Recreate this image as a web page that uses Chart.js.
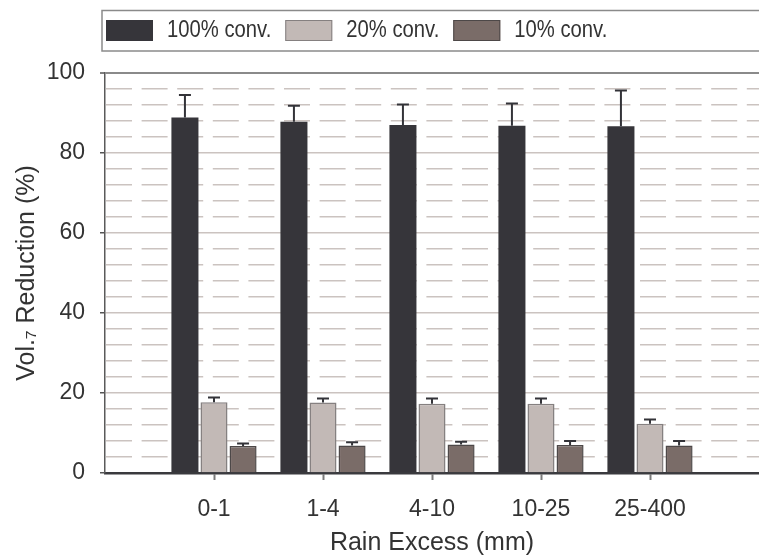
<!DOCTYPE html>
<html>
<head>
<meta charset="utf-8">
<script src="https://cdn.jsdelivr.net/npm/chart.js@4.4.1/dist/chart.umd.min.js"></script>
<style>
  html, body { margin: 0; padding: 0; background: #ffffff; }
  #wrap { width: 759px; height: 559px; position: relative; }
</style>
</head>
<body>
<div id="wrap"><canvas id="chart"></canvas></div>
<script>
// Rain-excess classes on the x axis
const categories = ['0-1', '1-4', '4-10', '10-25', '25-400'];

// Mean volume reduction (%) per conversion scenario
const conv100 = [88.9, 87.8, 87.0, 86.8, 86.7];
const conv20  = [17.7, 17.6, 17.3, 17.3, 12.3];
const conv10  = [6.75, 6.9, 7.1, 7.0, 6.9];

// Upper error (one standard deviation) for each bar
const conv100Err = [5.6, 4.0, 5.1, 5.6, 8.9];
const conv20Err  = [1.2, 1.0, 1.3, 1.3, 1.1];
const conv10Err  = [0.65, 0.8, 0.7, 1.0, 1.1];

const seriesNames = ['100% conv.', '20% conv.', '10% conv.'];
const yTickStep = 20;
const yMinorStep = 4;

// Blank slots either side so the classes sit one step in from each end
const pad = arr => [null, ...arr, null];
const labels = ['', ...categories, ''];

const FONT = "'Liberation Sans', Arial, Helvetica, sans-serif";
Chart.defaults.font.family = FONT;
Chart.defaults.font.size = 23;
Chart.defaults.color = '#333333';

// Upward error whiskers with a flat cap
const errorBars = {
  id: 'errorBars',
  afterDatasetsDraw(chart) {
    const ctx = chart.ctx;
    const yScale = chart.scales.y;
    ctx.save();
    ctx.strokeStyle = '#333338';
    ctx.lineWidth = 2;
    chart.data.datasets.forEach((ds, i) => {
      const meta = chart.getDatasetMeta(i);
      meta.data.forEach((bar, j) => {
        const v = ds.data[j];
        const e = ds.errors[j];
        if (v == null || e == null) return;
        const yTop = yScale.getPixelForValue(v + e);
        ctx.beginPath();
        ctx.moveTo(bar.x, bar.y);
        ctx.lineTo(bar.x, yTop);
        ctx.moveTo(bar.x - 6, yTop);
        ctx.lineTo(bar.x + 6, yTop);
        ctx.stroke();
      });
    });
    ctx.restore();
  }
};

// Framed legend row across the top
const boxLegend = {
  id: 'boxLegend',
  afterDraw(chart) {
    const ctx = chart.ctx;
    ctx.save();
    ctx.strokeStyle = '#8a8a8a';
    ctx.lineWidth = 1.5;
    ctx.strokeRect(102, 10.5, 700, 40.5);
    ctx.font = '23px ' + FONT;
    ctx.textBaseline = 'middle';
    ctx.fillStyle = '#333333';
    let x = 106;
    const squeeze = 0.88;
    chart.data.datasets.forEach(ds => {
      ctx.fillStyle = ds.backgroundColor;
      ctx.fillRect(x, 20, 47, 21);
      ctx.strokeStyle = ds.borderColor;
      ctx.lineWidth = 1;
      ctx.strokeRect(x + 0.5, 20.5, 46, 20);
      x += 47 + 14;
      const w = ctx.measureText(ds.label).width * squeeze;
      ctx.save();
      ctx.translate(x, 31);
      ctx.scale(squeeze, 1);
      ctx.fillStyle = '#333333';
      ctx.fillText(ds.label, 0, 0);
      ctx.restore();
      x += w + 14;
    });
    ctx.restore();
  }
};

new Chart(document.getElementById('chart'), {
  type: 'bar',
  data: {
    labels: labels,
    datasets: [
      { label: seriesNames[0], data: pad(conv100), errors: pad(conv100Err),
        backgroundColor: '#36353a', borderColor: '#36353a', borderWidth: 0 },
      { label: seriesNames[1], data: pad(conv20), errors: pad(conv20Err),
        backgroundColor: '#c2b9b6', borderColor: '#858080', borderWidth: 1.5 },
      { label: seriesNames[2], data: pad(conv10), errors: pad(conv10Err),
        backgroundColor: '#7a6c68', borderColor: '#4d4848', borderWidth: 1.5 }
    ]
  },
  options: {
    responsive: true,
    maintainAspectRatio: false,
    animation: false,
    devicePixelRatio: 1,
    layout: { padding: { top: 73, right: 0, bottom: 0, left: 0 } },
    categoryPercentage: 0.8,
    barPercentage: 0.93,
    plugins: {
      legend: { display: false },
      tooltip: { enabled: false }
    },
    scales: {
      x: {
        offset: false,
        grid: {
          offset: false,
          drawOnChartArea: false,
          drawTicks: true,
          tickLength: 7,
          tickWidth: 2,
          tickColor: ctx => (ctx.index === 0 || ctx.index === labels.length - 1) ? 'rgba(0,0,0,0)' : '#7a7a7a'
        },
        border: { display: true, color: '#3a3a3e', width: 2.5 },
        ticks: { padding: 16, maxRotation: 0, autoSkip: false, color: '#333333' },
        title: { display: true, text: 'Rain Excess (mm)', color: '#333333',
                 font: { size: 25 },
                 padding: { top: 0, bottom: 1 } },
        afterFit: s => { s.height = 86; s.paddingLeft = 0; s.paddingRight = 0; }
      },
      y: {
        position: 'left',
        min: 0,
        max: 100,
        ticks: { stepSize: yTickStep, padding: 15, color: '#333333' },
        grid: {
          drawOnChartArea: true,
          drawTicks: true,
          tickLength: 5,
          tickWidth: 1.5,
          tickColor: '#555555',
          lineWidth: ctx => ctx.tick && ctx.tick.value === 100 ? 2 : 1.5,
          color: ctx => {
            const v = ctx.tick ? ctx.tick.value : null;
            if (v === 0) return 'rgba(0,0,0,0)';
            if (v === 100) return '#8a8a8a';
            return '#cbc3c0';
          }
        },
        border: { display: true, color: '#5a5a5a', width: 1.5 },
        title: { display: true, text: 'Vol.\u2087 Reduction (%)', color: '#333333',
                 font: { size: 25 },
                 padding: { top: 12, bottom: 0 } },
        afterFit: s => { s.width = 105; }
      },
      yMinor: {
        position: 'left',
        min: 0,
        max: 100,
        ticks: { display: false, stepSize: yMinorStep },
        grid: {
          drawOnChartArea: true,
          drawTicks: false,
          lineWidth: 1.5,
          color: ctx => {
            const v = ctx.tick ? ctx.tick.value : 0;
            return (v % yTickStep === 0) ? 'rgba(0,0,0,0)' : '#cbc3c0';
          }
        },
        border: { display: false, dash: [26, 9.6], dashOffset: -1 },
        afterFit: s => { s.width = 0; }
      }
    }
  },
  plugins: [errorBars, boxLegend]
});
</script>
</body>
</html>
